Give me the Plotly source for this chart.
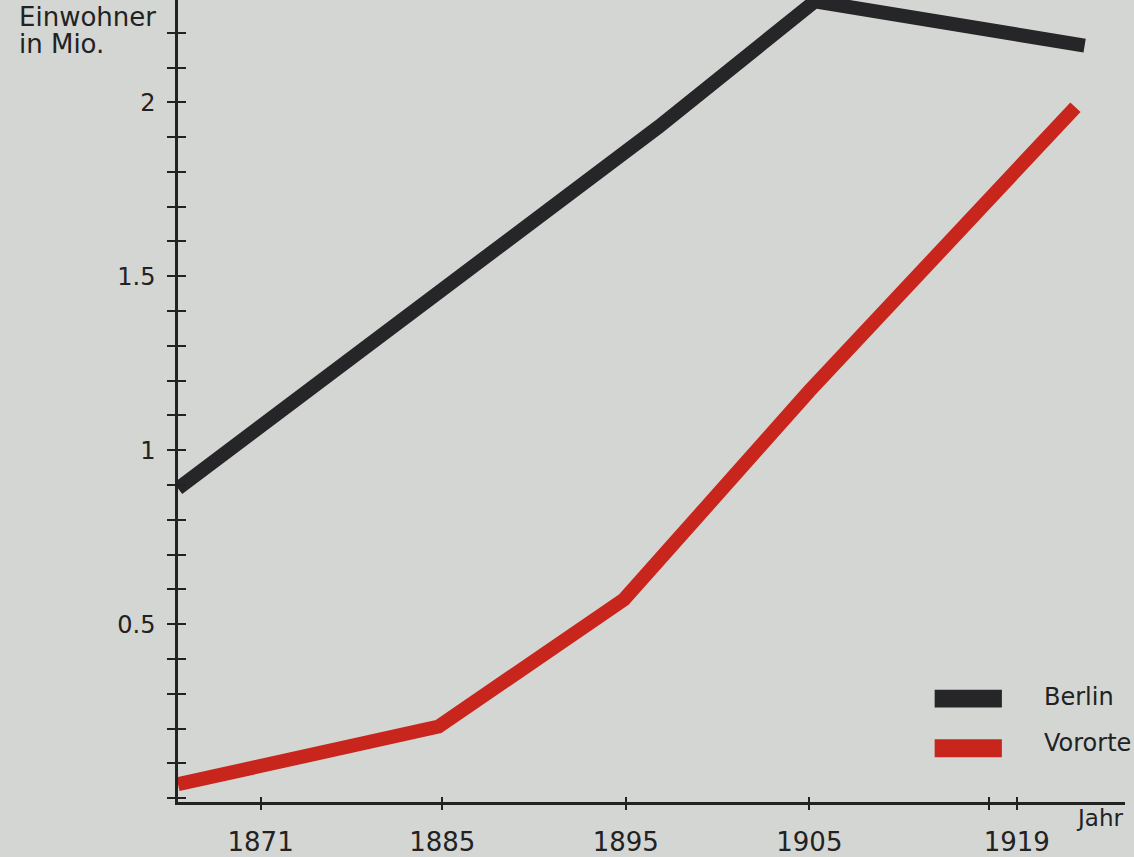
import plotly.graph_objects as go

# --- data (values in millions of inhabitants) ---
berlin_years = [1870.6, 1896.8, 1905.3, 1920.0]
berlin_values = [0.89, 1.93, 2.29, 2.163]

vororte_years = [1870.6, 1884.8, 1894.9, 1905.0, 1919.5]
vororte_values = [0.04, 0.206, 0.571, 1.17, 1.986]

x_tick_vals = [1875.1, 1885, 1895, 1905, 1914.8, 1916.3]
x_tick_text = ["1871", "1885", "1895", "1905", "", "1919"]
y_tick_vals = [0.5, 1, 1.5, 2]
y_tick_text = ["0.5", "1", "1.5", "2"]

series_names = ["Berlin", "Vororte"]
BERLIN_COLOR = "#262528"
VORORTE_COLOR = "#c8261c"
BG = "#d4d6d3"
INK = "#222222"
FONT = "DejaVu Sans, Liberation Sans, sans-serif"

fig = go.Figure()
fig.add_trace(go.Scatter(x=berlin_years, y=berlin_values, mode="lines",
                         name=series_names[0],
                         line=dict(color=BERLIN_COLOR, width=14),
                         showlegend=False))
fig.add_trace(go.Scatter(x=vororte_years, y=vororte_values, mode="lines",
                         name=series_names[1],
                         line=dict(color=VORORTE_COLOR, width=14),
                         showlegend=False))

xr = [1870.6, 1922.2]
yr = [-0.011, 2.294]

fig.update_layout(
    width=1134, height=857,
    margin=dict(l=178, r=9, t=0, b=50),
    paper_bgcolor=BG, plot_bgcolor=BG,
    font=dict(family=FONT, color=INK, size=22),
    xaxis=dict(range=xr, showgrid=False, zeroline=False,
               showline=True, linecolor=INK, linewidth=2.5,
               tickvals=x_tick_vals, ticktext=x_tick_text,
               ticks="outside", ticklen=5, tickwidth=1.8, tickcolor=INK,
               tickfont=dict(size=26, family=FONT, color=INK),
               ticklabelstandoff=10),
    xaxis2=dict(range=xr, overlaying="x", anchor="y", side="bottom",
                showgrid=False, zeroline=False, showline=False,
                tickvals=x_tick_vals, showticklabels=False,
                ticks="inside", ticklen=5, tickwidth=1.8, tickcolor=INK),
    yaxis=dict(range=yr, showgrid=False, zeroline=False,
               showline=True, linecolor=INK, linewidth=2.5,
               tickvals=y_tick_vals, ticktext=y_tick_text,
               ticks="outside", ticklen=8, tickwidth=1.8, tickcolor=INK,
               minor=dict(dtick=0.1, tick0=0, ticks="outside", ticklen=8,
                          tickwidth=1.8, tickcolor=INK, showgrid=False),
               tickfont=dict(size=24, family=FONT, color=INK),
               ticklabelstandoff=7),
    yaxis2=dict(range=yr, overlaying="y", anchor="x", side="left",
                showgrid=False, zeroline=False, showline=False,
                showticklabels=False, dtick=0.1, tick0=0.1,
                ticks="inside", ticklen=8, tickwidth=1.8, tickcolor=INK),
)

# invisible trace to activate the overlay axes
fig.add_trace(go.Scatter(x=[xr[0]], y=[yr[0]], xaxis="x2", yaxis="y2",
                         mode="markers", marker=dict(opacity=0),
                         showlegend=False, hoverinfo="skip"))

# axis titles
fig.add_annotation(text="Einwohner", xref="paper", yref="paper",
                   x=-0.170, y=0.9785, xanchor="left", yanchor="middle",
                   showarrow=False, font=dict(size=26, family=FONT, color=INK))
fig.add_annotation(text="in Mio.", xref="paper", yref="paper",
                   x=-0.170, y=0.9455, xanchor="left", yanchor="middle",
                   showarrow=False, font=dict(size=26, family=FONT, color=INK))
fig.add_annotation(text="Jahr", xref="paper", yref="paper",
                   x=1.0, y=-0.020, xanchor="right", yanchor="middle",
                   showarrow=False, font=dict(size=23, family=FONT, color=INK))

# legend (manual swatches)
legend_rows = [(series_names[0], BERLIN_COLOR, 0.1178, 0.1401, 0.1308),
               (series_names[1], VORORTE_COLOR, 0.0558, 0.0781, 0.0737)]
for name, col, y0, y1, yc in legend_rows:
    fig.add_shape(type="rect", xref="paper", yref="paper",
                  x0=0.799, x1=0.870, y0=y0, y1=y1,
                  fillcolor=col, line=dict(width=0))
    fig.add_annotation(text=name, xref="paper", yref="paper",
                       x=0.912, y=yc, xanchor="left", yanchor="middle",
                       showarrow=False,
                       font=dict(size=24, family=FONT, color=INK))

fig.write_html(
    "out.html",
    config={"displayModeBar": False},
    post_script=("document.body.style.margin='0';"
                 "document.body.style.overflow='hidden';"
                 "document.body.style.background='" + BG + "';"),
)
